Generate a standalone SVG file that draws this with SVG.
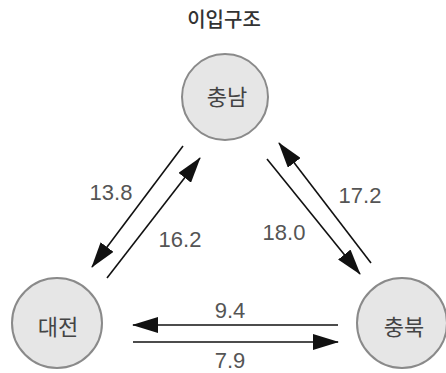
<svg xmlns="http://www.w3.org/2000/svg" width="446" height="373" viewBox="0 0 446 373">
<defs>
<marker id="ah" markerWidth="26" markerHeight="16" refX="25" refY="8" orient="auto" markerUnits="userSpaceOnUse">
<path d="M0,0 L26,8 L0,16 Z" fill="#111"/>
</marker>
<style>
.node circle{fill:#e6e6e6;stroke:#8a8a8a;stroke-width:2}
.node text{font-family:"Noto Sans CJK KR","Noto Sans",sans-serif;font-size:22px;fill:#444;text-anchor:middle}
.title{font-family:"Noto Sans CJK KR","Noto Sans",sans-serif;font-size:20px;font-weight:500;fill:#333;text-anchor:middle}
.edge line{stroke:#111;stroke-width:1.6}
.lbl{font-family:"Liberation Sans",Arial,sans-serif;font-size:22px;fill:#555;text-anchor:middle}
</style>
</defs>
<rect width="446" height="373" fill="#fff"/>
<text class="title" x="224" y="27">이입구조</text>
<g id="node-chungnam" class="node"><circle cx="225" cy="97" r="43"/><text x="227" y="105">충남</text></g>
<g id="node-daejeon" class="node"><circle cx="57" cy="323" r="45"/><text x="58" y="335">대전</text></g>
<g id="node-chungbuk" class="node"><circle cx="402" cy="323" r="45"/><text x="404" y="335">충북</text></g>
<g id="connectors" class="edge">
<line x1="183" y1="146" x2="92" y2="267" marker-end="url(#ah)"/>
<line x1="107" y1="278" x2="200" y2="158" marker-end="url(#ah)"/>
<line x1="267" y1="159" x2="360" y2="274" marker-end="url(#ah)"/>
<line x1="371" y1="263" x2="279" y2="143" marker-end="url(#ah)"/>
<line x1="338" y1="325" x2="133" y2="325" marker-end="url(#ah)"/>
<line x1="133" y1="342" x2="338" y2="342" marker-end="url(#ah)"/>
</g>
<g id="labels">
<text class="lbl" x="111" y="200">13.8</text>
<text class="lbl" x="180" y="247">16.2</text>
<text class="lbl" x="284" y="240">18.0</text>
<text class="lbl" x="360" y="203">17.2</text>
<text class="lbl" x="230" y="318">9.4</text>
<text class="lbl" x="230" y="368">7.9</text>
</g>
</svg>
